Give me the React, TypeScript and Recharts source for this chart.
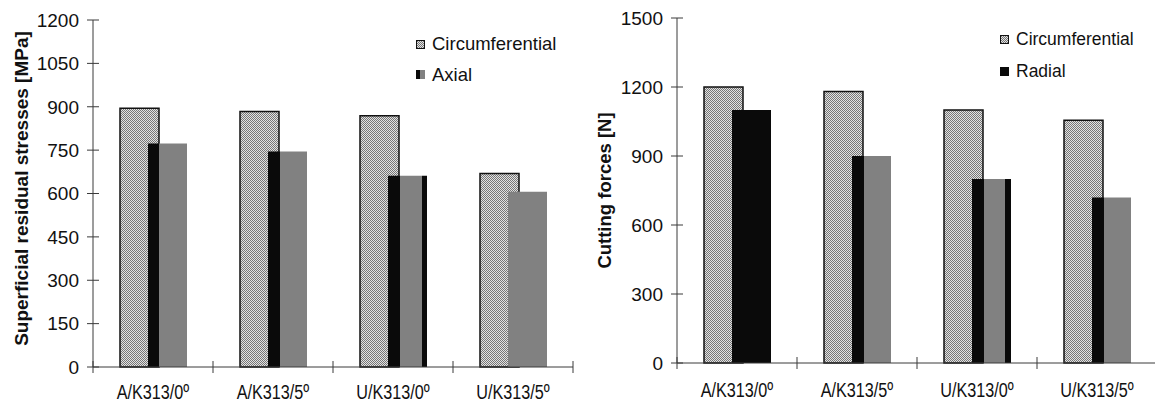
import React from 'react';
import { BarChart, Bar, XAxis, YAxis, Cell, Legend } from 'recharts';

// ---- data -------------------------------------------------------------
const categories = ['A/K313/0º', 'A/K313/5º', 'U/K313/0º', 'U/K313/5º'];

// superficial residual stresses [MPa]
const stressCircumferential = [895, 884, 869, 669];
const stressAxial = [773, 745, 661, 606];
const stressTicks = [0, 150, 300, 450, 600, 750, 900, 1050, 1200];

// cutting forces [N]
const forceCircumferential = [1200, 1180, 1100, 1055];
const forceRadial = [1100, 900, 800, 720];
const forceTicks = [0, 300, 600, 900, 1200, 1500];

const nameCirc = 'Circumferential';
const nameAxial = 'Axial';
const nameRadial = 'Radial';
const stressTitle = 'Superficial residual stresses [MPa]';
const forceTitle = 'Cutting forces [N]';

const stressData = categories.map((category, i) => ({
  category,
  circ: stressCircumferential[i],
  second: stressAxial[i],
}));
const forceData = categories.map((category, i) => ({
  category,
  circ: forceCircumferential[i],
  second: forceRadial[i],
}));

// ---- styles -----------------------------------------------------------
const FONT = "'Liberation Sans', Arial, Helvetica, sans-serif";
const AXIS = '#3a3a3a';
const INK = '#111';
const BLACK = '#0a0a0a';
const GREY = '#818181';

type Band = [string, number, number];
// black / grey banding of the second series, one list per bar
const axialBands: Band[][] = [
  [[BLACK, 0, 0.28], [GREY, 0.28, 1]],
  [[BLACK, 0, 0.3], [GREY, 0.3, 1]],
  [[BLACK, 0, 0.3], [GREY, 0.3, 0.87], [BLACK, 0.87, 1]],
  [[GREY, 0, 1]],
];
const radialBands: Band[][] = [
  [[BLACK, 0, 1]],
  [[BLACK, 0, 0.3], [GREY, 0.3, 1]],
  [[BLACK, 0, 0.3], [GREY, 0.3, 0.85], [BLACK, 0.85, 1]],
  [[BLACK, 0, 0.3], [GREY, 0.3, 1]],
];

const BandGradient = ({ id, bands }: { id: string; bands: Band[] }) => (
  <linearGradient id={id} x1="0" y1="0" x2="1" y2="0">
    {bands.flatMap(([c, a, b], k) => [
      <stop key={`${k}a`} offset={a} stopColor={c} />,
      <stop key={`${k}b`} offset={b} stopColor={c} />,
    ])}
  </linearGradient>
);

const Stipple = ({ id }: { id: string }) => (
  <pattern id={id} width={2} height={2} patternUnits="userSpaceOnUse">
    <rect width={2} height={2} fill="#e2e2e2" />
    <rect x={0} y={0} width={1} height={1} fill="#767676" />
    <rect x={1} y={1} width={1} height={1} fill="#767676" />
  </pattern>
);

const ScaledText = ({ x, y, anchor, children, size, sx }: any) => (
  <g transform={`translate(${x},${y}) scale(${sx},1)`}>
    <text x={0} y={0} textAnchor={anchor} fontFamily={FONT} fontSize={size} fill={INK}>
      {children}
    </text>
  </g>
);

// value ticks: a short mark crossing the axis line, label to the left
const YTick = (props: any) => {
  const { x, y, payload } = props;
  return (
    <g>
      <line x1={x - 6} x2={x + 6} y1={y} y2={y} stroke={AXIS} strokeWidth={1} />
      <ScaledText x={x - 14} y={y + 6.8} anchor="end" size={19} sx={1}>
        {payload.value}
      </ScaledText>
    </g>
  );
};

// category ticks: marks on the category boundaries, label in the middle
const makeXTick = (labelDy: number) => (props: any) => {
  const { x, y, payload, index } = props;
  const half = typeof payload.offset === 'number' && payload.offset > 0 ? payload.offset : 60;
  return (
    <g>
      {index === 0 && (
        <line x1={x - half} x2={x - half} y1={y - 6} y2={y + 6} stroke={AXIS} strokeWidth={1} />
      )}
      <line x1={x + half} x2={x + half} y1={y - 6} y2={y + 6} stroke={AXIS} strokeWidth={1} />
      <ScaledText x={x} y={y + labelDy} anchor="middle" size={20.5} sx={0.79}>
        {payload.value}
      </ScaledText>
    </g>
  );
};
const StressXTick = makeXTick(32);
const ForceXTick = makeXTick(34);

const axisTitle = (text: string, size: number, dx: number, dy: number) => (props: any) => {
  const vb = props.viewBox;
  const cx = vb.x + dx;
  const cy = vb.y + vb.height / 2 + dy;
  return (
    <text
      x={cx}
      y={cy}
      transform={`rotate(-90 ${cx} ${cy})`}
      textAnchor="middle"
      dominantBaseline="central"
      fontFamily={FONT}
      fontWeight="bold"
      fontSize={size}
      fill={INK}
    >
      {text}
    </text>
  );
};

type Row = { label: string; icon: React.ReactNode };
const LegendList = ({ rows, fontSize, rowHeight }: { rows: Row[]; fontSize: number; rowHeight: number }) => (
  <div style={{ fontFamily: FONT, fontSize, color: INK, lineHeight: 1 }}>
    {rows.map((r) => (
      <div key={r.label} style={{ display: 'flex', alignItems: 'center', height: rowHeight }}>
        <svg width={9} height={9} style={{ display: 'block', marginRight: 7 }}>
          {r.icon}
        </svg>
        <span style={{ whiteSpace: 'nowrap' }}>{r.label}</span>
      </div>
    ))}
  </div>
);

const stippleIcon = (id: string) => (
  <rect x={0.5} y={0.5} width={8} height={8} fill={`url(#${id})`} stroke={INK} strokeWidth={1} />
);

const StressChart = () => (
  <BarChart
    width={580}
    height={404}
    data={stressData}
    margin={{ top: 20, right: 7, bottom: 0, left: 0 }}
    barSize={39}
    barGap={-11}
  >
    <defs>
      <Stipple id="stipple-stress" />
      <Stipple id="stipple-stress-key" />
      {axialBands.map((b, i) => (
        <BandGradient key={i} id={`axial-fill-${i}`} bands={b} />
      ))}
    </defs>
    <XAxis
      dataKey="category"
      height={37}
      interval={0}
      tickSize={0}
      tickMargin={0}
      tickLine={false}
      axisLine={{ stroke: AXIS, strokeWidth: 1 }}
      tick={StressXTick}
    />
    <YAxis
      width={93}
      domain={[0, 1200]}
      ticks={stressTicks}
      interval={0}
      tickSize={0}
      tickMargin={0}
      tickLine={false}
      axisLine={{ stroke: AXIS, strokeWidth: 1 }}
      tick={YTick}
      label={axisTitle(stressTitle, 19, 21, -5)}
    />
    <Legend
      layout="horizontal"
      align="center"
      verticalAlign="middle"
      wrapperStyle={{ left: 416, top: 29, width: 'auto', height: 'auto' }}
      content={() => (
        <LegendList
          fontSize={18.5}
          rowHeight={30.5}
          rows={[
            { label: nameCirc, icon: stippleIcon('stipple-stress-key') },
            {
              label: nameAxial,
              icon: (
                <g>
                  <rect x={0} y={0} width={4.5} height={9} fill={BLACK} />
                  <rect x={4.5} y={0} width={4.5} height={9} fill={GREY} />
                </g>
              ),
            },
          ]}
        />
      )}
    />
    <Bar dataKey="circ" name={nameCirc} fill="url(#stipple-stress)" stroke={INK} strokeWidth={1.5} isAnimationActive={false} />
    <Bar dataKey="second" name={nameAxial} isAnimationActive={false}>
      {stressData.map((_, i) => (
        <Cell key={i} fill={`url(#axial-fill-${i})`} />
      ))}
    </Bar>
  </BarChart>
);

const ForceChart = () => (
  <BarChart
    width={577}
    height={404}
    data={forceData}
    margin={{ top: 18, right: 0, bottom: 0, left: 0 }}
    barSize={39}
    barGap={-11}
  >
    <defs>
      <Stipple id="stipple-force" />
      <Stipple id="stipple-force-key" />
      {radialBands.map((b, i) => (
        <BandGradient key={i} id={`radial-fill-${i}`} bands={b} />
      ))}
    </defs>
    <XAxis
      dataKey="category"
      height={41}
      interval={0}
      tickSize={0}
      tickMargin={0}
      tickLine={false}
      axisLine={{ stroke: AXIS, strokeWidth: 1 }}
      tick={ForceXTick}
    />
    <YAxis
      width={97}
      domain={[0, 1500]}
      ticks={forceTicks}
      interval={0}
      tickSize={0}
      tickMargin={0}
      tickLine={false}
      axisLine={{ stroke: AXIS, strokeWidth: 1 }}
      tick={YTick}
      label={axisTitle(forceTitle, 18.5, 24, 0)}
    />
    <Legend
      layout="horizontal"
      align="center"
      verticalAlign="middle"
      wrapperStyle={{ left: 420, top: 23.5, width: 'auto', height: 'auto' }}
      content={() => (
        <LegendList
          fontSize={17.5}
          rowHeight={32}
          rows={[
            { label: nameCirc, icon: stippleIcon('stipple-force-key') },
            { label: nameRadial, icon: <rect x={0} y={0} width={9} height={9} fill={BLACK} /> },
          ]}
        />
      )}
    />
    <Bar dataKey="circ" name={nameCirc} fill="url(#stipple-force)" stroke={INK} strokeWidth={1.5} isAnimationActive={false} />
    <Bar dataKey="second" name={nameRadial} isAnimationActive={false}>
      {forceData.map((_, i) => (
        <Cell key={i} fill={`url(#radial-fill-${i})`} />
      ))}
    </Bar>
  </BarChart>
);

export default function App() {
  return (
    <div
      style={{
        position: 'absolute',
        left: 0,
        top: 0,
        width: 1155,
        height: 404,
        overflow: 'hidden',
        background: '#fff',
      }}
    >
      <div style={{ position: 'absolute', left: 0, top: 0 }}>
        <StressChart />
      </div>
      <div style={{ position: 'absolute', left: 580, top: 0 }}>
        <ForceChart />
      </div>
    </div>
  );
}
